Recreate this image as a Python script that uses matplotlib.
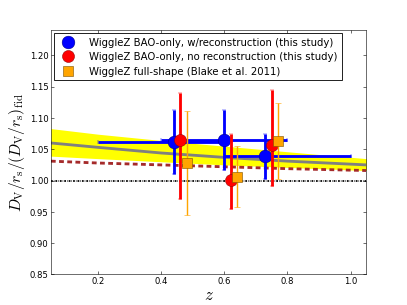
import numpy as np
import matplotlib
matplotlib.use("Agg")
import matplotlib.pyplot as plt
from matplotlib.lines import Line2D

plt.rcParams['mathtext.fontset'] = 'cm'
plt.rcParams['font.family'] = 'DejaVu Sans'

# model curves
z_model = [0.05, 0.2, 0.4, 0.6, 0.8, 1.05]
band_hi = [1.083, 1.074, 1.064, 1.055, 1.046, 1.035]
band_lo = [1.039, 1.035, 1.030, 1.025, 1.021, 1.016]
planck = [1.060, 1.053, 1.044, 1.037, 1.031, 1.025]
wmap = [1.031, 1.028, 1.025, 1.022, 1.019, 1.016]

# WiggleZ BAO-only, with reconstruction
z_rec = [0.44, 0.60, 0.73]
dv_rec = [1.061, 1.065, 1.039]
dv_rec_err = [0.051, 0.048, 0.036]
z_lo = [0.2, 0.4, 0.6]
z_hi = [0.6, 0.8, 1.0]

# WiggleZ BAO-only, no reconstruction
z_pre = [0.46, 0.62, 0.75]
dv_pre = [1.065, 1.001, 1.057]
dv_pre_up = [0.075, 0.074, 0.088]
dv_pre_dn = [0.094, 0.046, 0.065]

# WiggleZ full shape (Blake et al. 2011)
z_fs = [0.48, 0.64, 0.77]
dv_fs = [1.028, 1.006, 1.063]
dv_fs_err = [0.083, 0.049, 0.061]

labels = ['WiggleZ BAO-only, w/reconstruction (this study)',
          'WiggleZ BAO-only, no reconstruction (this study)',
          'WiggleZ full-shape (Blake et al. 2011)']

fig = plt.figure(figsize=(8, 6), dpi=407/8.)
ax = fig.add_axes([0.125, 0.1, 0.775, 0.8])

ax.fill_between(z_model, band_lo, band_hi, color='yellow', lw=0, zorder=1)
ax.plot(z_model, planck, color='gray', lw=4, zorder=2)
ax.plot(z_model, wmap, color='brown', lw=4, ls=(0, (1.7, 1.2)), zorder=2)
ax.axhline(1.0, color='k', lw=2.5, ls=(0, (1.0, 0.6, 0.3, 0.6)), zorder=2)

xerr = [np.array(z_rec) - np.array(z_lo), np.array(z_hi) - np.array(z_rec)]
ax.errorbar(z_rec, dv_rec, yerr=dv_rec_err, xerr=xerr, fmt='o', color='blue',
            mec='navy', mew=0.7, ms=18, elinewidth=4, capsize=3, capthick=1.5,
            zorder=3)
ax.errorbar(z_pre, dv_pre, yerr=[dv_pre_dn, dv_pre_up], fmt='o', color='red',
            mec='darkred', mew=0.7, ms=17, elinewidth=4, capsize=3, capthick=1.5,
            zorder=4)
ax.errorbar(z_fs, dv_fs, yerr=dv_fs_err, fmt='s', color='orange',
            mec='#7a5000', mew=0.8, ms=13, elinewidth=2, capsize=4, capthick=1.5,
            zorder=5)

ax.set_xlim(0.05, 1.05)
ax.set_ylim(0.85, 1.24)
ax.set_xticks([0.2, 0.4, 0.6, 0.8, 1.0])
ax.set_yticks(np.arange(0.85, 1.201, 0.05))
ax.set_yticklabels(['%.2f' % v for v in np.arange(0.85, 1.201, 0.05)])
ax.tick_params(direction='in', top=True, right=True, labelsize=12, length=4)

ax.set_xlabel(r'$z$', fontsize=24, labelpad=0)
ax.set_ylabel(r'$D_{\rm V}/r_{\rm s}/(D_{\rm V}/r_{\rm s})_{\rm fid}$', fontsize=22)

handles = [Line2D([], [], ls='none', marker='o', color='blue', mec='navy', mew=0.7, ms=18),
           Line2D([], [], ls='none', marker='o', color='red', mec='darkred', mew=0.7, ms=17),
           Line2D([], [], ls='none', marker='s', color='orange', mec='#7a5000', mew=0.8, ms=13)]
leg = ax.legend(handles, labels, loc='upper left', numpoints=1, fontsize=14.3,
                fancybox=False, framealpha=1, borderaxespad=0.3,
                handletextpad=1.1, labelspacing=0.45)
leg.get_frame().set_edgecolor('k')
leg.get_frame().set_linewidth(1.2)

fig.savefig('out.png', dpi=407/8.)
